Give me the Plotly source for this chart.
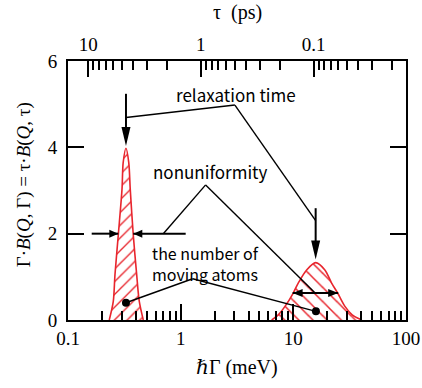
import math
import plotly.graph_objects as go

# ---------------- data ----------------
# narrow peak (relaxation around 0.33 meV)
left_gamma = [0.2325, 0.2523, 0.2612, 0.2795, 0.3014, 0.309, 0.327, 0.346, 0.357, 0.3797, 0.407, 0.4292, 0.4658]
left_value = [0.0, 0.43, 1.05, 1.97, 3.02, 3.65, 3.98, 3.65, 3.02, 1.97, 1.05, 0.43, 0.0]
# broad peak (relaxation around 16 meV)
right_gamma = [6.42, 7.35, 8.43, 9.98, 11.05, 13.12, 15.78, 19.06, 21.87, 24.72, 28.71, 33.3, 40.6]
right_value = [0.0, 0.12, 0.315, 0.625, 0.856, 1.16, 1.33, 1.16, 0.856, 0.625, 0.315, 0.12, 0.0]

x_tick_vals = [0.1, 1, 10, 100]
x_tick_text = ["0.1", "1", "10", "100"]
x_minor_vals = [m * d for d in (0.1, 1, 10) for m in range(2, 10)]
y_tick_vals = [0, 2, 4, 6]
tau_tick_vals = [10, 1, 0.1]
tau_tick_text = ["10", "1", "0.1"]
tau_minor_vals = [m * d for d in (0.01, 0.1, 1) for m in range(2, 10)]
TAU_GAMMA = 1.51  # product tau*Gamma read from the aligned top/bottom ticks

# annotation anchors, (Gamma in meV, value)
relax_label = (3.09, 5.23)
relax_apex = (3.03, 4.98)
relax_ends = [(0.327, 4.69), (15.78, 2.30)]
relax_arrows = [(0.327, 5.24, 4.03), (15.78, 2.59, 1.40)]  # x, y start, y tip

nonu_label = (1.83, 3.43)
nonu_apex = (1.666, 3.13)
nonu_ends = [(0.701, 2.0), (15.55, 0.632)]
nonu_left_arrows = [(0.1623, 0.2795, 2.0), (1.108, 0.3797, 2.0)]  # x start, x tip, y
nonu_right_span = (9.86, 25.0, 0.625)

atoms_text = "the number of<br>moving atoms"
atoms_label = (1.67, 1.32)
atoms_apex = (1.278, 0.956)
atoms_dots_x = [0.327, 15.87]
atoms_dots_y = [0.40, 0.20]

RED = "#e8252d"
SERIF = "Liberation Serif, Times New Roman, DejaVu Serif, serif"
SANS = "Noto Sans CJK JP, Noto Sans, sans-serif"

W, H = 422, 388
ML, MR, MT, MB = 68, 16, 61, 68
PW, PH = W - ML - MR, H - MT - MB
XMIN, XMAX = -1, 2
YMAX = 6


def fx(g):
    return (math.log10(g) - XMIN) / (XMAX - XMIN)


def fy(v):
    return v / YMAX


shapes = []


def line(p0, p1, width=1.4):
    shapes.append(dict(type="line", xref="paper", yref="paper",
                       x0=fx(p0[0]), y0=fy(p0[1]), x1=fx(p1[0]), y1=fy(p1[1]),
                       line=dict(color="black", width=width)))


def head(tip, direction, length, width):
    # direction in pixel units (dx, dy) with y up
    tx, ty = fx(tip[0]) * PW, fy(tip[1]) * PH
    dx, dy = direction
    n = math.hypot(dx, dy)
    dx, dy = dx / n, dy / n
    bx, by = tx - dx * length, ty - dy * length
    px, py = -dy * width / 2, dx * width / 2
    pts = [(tx, ty), (bx + px, by + py), (bx - px, by - py)]
    path = "M " + " L ".join(f"{x / PW:.5f},{y / PH:.5f}" for x, y in pts) + " Z"
    shapes.append(dict(type="path", xref="paper", yref="paper", path=path,
                       fillcolor="black", line=dict(width=0)))


# relaxation time
for end in relax_ends:
    line(relax_apex, end)
for x, y0, y1 in relax_arrows:
    line((x, y0), (x, y1 + 10 / PH * YMAX), width=2)
    head((x, y1), (0, -1), 19, 9)

# nonuniformity
for end in nonu_ends:
    line(nonu_apex, end)
for xs, xt, y in nonu_left_arrows:
    line((xs, y), (xt, y), width=2)
    head((xt, y), (1 if xt > xs else -1, 0), 9, 8)
xa, xb, yv = nonu_right_span
line((xa, yv), (xb, yv), width=2)
head((xa, yv), (-1, 0), 10, 8)
head((xb, yv), (1, 0), 10, 8)

# number of moving atoms
line(atoms_apex, (atoms_dots_x[0], atoms_dots_y[0]))
line(atoms_apex, (atoms_dots_x[1], atoms_dots_y[1]))

annotations = []


def label(text, x, y, size=17):
    annotations.append(dict(text=text, xref="paper", yref="paper", x=fx(x), y=fy(y),
                            showarrow=False, xanchor="center", yanchor="middle",
                            font=dict(family=SANS, size=size, color="black")))


label("relaxation time", *relax_label)
label("nonuniformity", *nonu_label)
label(atoms_text, *atoms_label, size=16)

# axis titles placed at measured pixel distances from the plot frame
annotations.append(dict(text="ℏΓ (meV)", xref="paper", yref="paper", x=0.5, y=-47 / PH,
                        showarrow=False, xanchor="center", yanchor="middle",
                        font=dict(family=SERIF, size=20, color="black")))
annotations.append(dict(text="τ  (ps)", xref="paper", yref="paper", x=0.5, y=1 + 48 / PH,
                        showarrow=False, xanchor="center", yanchor="middle",
                        font=dict(family=SERIF, size=20, color="black")))
annotations.append(dict(text="Γ·<i>B</i>(<i>Q</i>, Γ) = τ·<i>B</i>(<i>Q</i>, τ)",
                        xref="paper", yref="paper", x=-44 / PW, y=0.52, textangle=-90,
                        showarrow=False, xanchor="center", yanchor="middle",
                        font=dict(family=SERIF, size=19, color="black")))

fig = go.Figure()
fig.add_trace(go.Scatter(x=left_gamma, y=left_value, mode="lines",
                         line=dict(color=RED, width=1.6, shape="spline", smoothing=0.8),
                         fill="tozeroy", fillcolor="white",
                         fillpattern=dict(shape="/", fgcolor=RED, bgcolor="white", fgopacity=1,
                                          size=9, solidity=0.15),
                         showlegend=False, hoverinfo="skip"))
fig.add_trace(go.Scatter(x=right_gamma, y=right_value, mode="lines",
                         line=dict(color=RED, width=1.6, shape="spline", smoothing=0.8),
                         fill="tozeroy", fillcolor="white",
                         fillpattern=dict(shape="\\", fgcolor=RED, bgcolor="white", fgopacity=1,
                                          size=10, solidity=0.15),
                         showlegend=False, hoverinfo="skip"))
fig.add_trace(go.Scatter(x=atoms_dots_x, y=atoms_dots_y, mode="markers",
                         marker=dict(color="black", size=8), showlegend=False, hoverinfo="skip"))
# invisible trace so the top tau axis is drawn
fig.add_trace(go.Scatter(x=[1], y=[-1], xaxis="x2", mode="markers",
                         marker=dict(opacity=0), showlegend=False, hoverinfo="skip"))

axis_common = dict(showline=True, linecolor="black", linewidth=2, showgrid=False, zeroline=False,
                   ticks="inside", ticklen=16, tickwidth=2, tickcolor="black", automargin=False,
                   tickfont=dict(family=SERIF, size=19, color="black"))

fig.update_layout(
    width=W, height=H,
    margin=dict(l=ML, r=MR, t=MT, b=MB),
    paper_bgcolor="white", plot_bgcolor="white",
    shapes=shapes, annotations=annotations,
    xaxis=dict(type="log", range=[XMIN, XMAX], tickvals=x_tick_vals, ticktext=x_tick_text,
               minor=dict(tickvals=x_minor_vals, ticks="inside", ticklen=9, tickwidth=2, tickcolor="black"),
               **axis_common),
    xaxis2=dict(type="log", overlaying="x", side="top", anchor="y",
                range=[math.log10(TAU_GAMMA / 10 ** XMIN), math.log10(TAU_GAMMA / 10 ** XMAX)],
                tickvals=tau_tick_vals, ticktext=tau_tick_text,
                minor=dict(tickvals=tau_minor_vals, ticks="inside", ticklen=9, tickwidth=2, tickcolor="black"),
                **axis_common),
    yaxis=dict(range=[0, YMAX], tickvals=y_tick_vals, mirror="ticks", ticklabelstandoff=5,
               **axis_common),
)

# remove the default 8px page margin so the figure fills the window exactly
fig.write_html("out.html", config={"displayModeBar": False},
               post_script="document.body.style.margin='0';")
